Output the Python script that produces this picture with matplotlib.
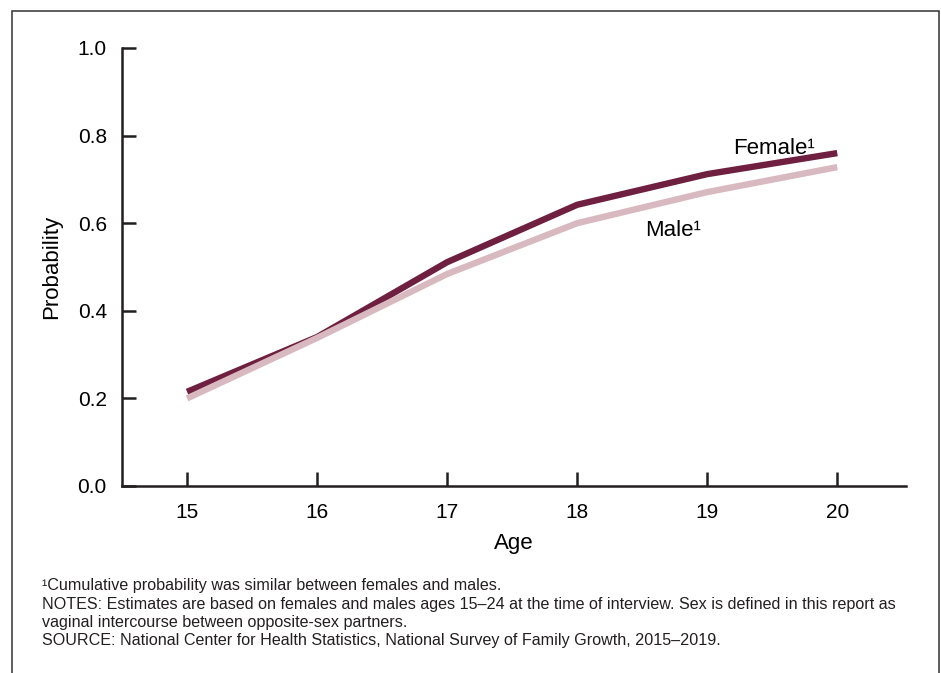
"""
Cumulative probability of first sexual intercourse by age, females vs males.
Recreated as a static matplotlib figure -> out.png
"""

import matplotlib
matplotlib.use("Agg")
import matplotlib.pyplot as plt
from matplotlib.patches import Rectangle

# ─── Data ────────────────────────────────────────────────────────────────────
AGES = [15, 16, 17, 18, 19, 20]
FEMALE = [0.215, 0.340, 0.511, 0.642, 0.712, 0.760]
MALE = [0.200, 0.338, 0.484, 0.600, 0.671, 0.728]
Y_TICKS = [0.0, 0.2, 0.4, 0.6, 0.8, 1.0]

FOOTNOTES = [
    "\u00b9Cumulative probability was similar between females and males.",
    "NOTES: Estimates are based on females and males ages 15\u201324 at the time of interview. "
    "Sex is defined in this report as",
    "vaginal intercourse between opposite-sex partners.",
    "SOURCE: National Center for Health Statistics, National Survey of Family Growth, 2015\u20132019.",
]

# ─── Style ───────────────────────────────────────────────────────────────────
COLOUR_FEMALE = "#6F1F3F"
COLOUR_MALE = "#D9B9C0"
COLOUR_AXIS = "#231F20"

plt.rcParams["font.family"] = ["Liberation Sans", "DejaVu Sans"]


def main():
    fig = plt.figure(figsize=(9.41, 6.73), dpi=100)
    ax = fig.add_axes([0.1297, 0.2779, 0.8333, 0.6508])

    ax.plot(AGES, FEMALE, color=COLOUR_FEMALE, linewidth=4.6,
            solid_capstyle="butt", solid_joinstyle="miter")
    ax.plot(AGES, MALE, color=COLOUR_MALE, linewidth=4.6,
            solid_capstyle="butt", solid_joinstyle="miter")

    # direct line labels
    ax.text(19.2, 0.758, "Female\u00b9", fontsize=16, ha="left", va="baseline",
            color="black")
    ax.text(18.52, 0.571, "Male\u00b9", fontsize=16, ha="left", va="baseline",
            color="black")

    ax.set_xlim(14.5, 20.53)
    ax.set_ylim(0, 1.0)
    ax.set_xticks(AGES)
    ax.set_yticks(Y_TICKS)
    ax.set_yticklabels([f"{v:.1f}" for v in Y_TICKS])

    ax.set_xlabel("Age", fontsize=16, labelpad=8)
    ax.set_ylabel("Probability", fontsize=16, labelpad=11)

    for side in ("top", "right"):
        ax.spines[side].set_visible(False)
    for side in ("left", "bottom"):
        ax.spines[side].set_color(COLOUR_AXIS)
        ax.spines[side].set_linewidth(1.8)
    ax.tick_params(direction="in", length=10, width=1.8, color=COLOUR_AXIS,
                   labelsize=15)
    ax.tick_params(axis="x", pad=12)
    ax.tick_params(axis="y", pad=11)

    # outer frame (open at the bottom)
    fig.add_artist(Rectangle((12 / 941, -0.05), 927 / 941, 1.05 - 11 / 673,
                             transform=fig.transFigure, fill=False,
                             edgecolor="#333333", linewidth=1.1))

    y0 = 1 - 590 / 673
    for i, line in enumerate(FOOTNOTES):
        fig.text(42 / 941, y0 - i * 18.5 / 673, line, fontsize=11.65,
                 ha="left", va="baseline", color="#231F20")

    fig.savefig("out.png", dpi=100)
    plt.close(fig)


if __name__ == "__main__":
    main()
